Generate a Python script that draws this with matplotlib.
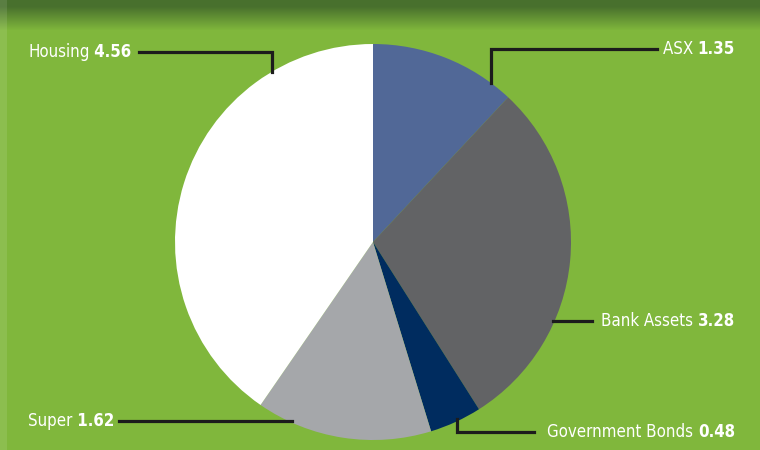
import matplotlib.pyplot as plt
from matplotlib import font_manager
import numpy as np

# values (share of household wealth)
labels = ['ASX', 'Bank Assets', 'Government Bonds', 'Super', 'Housing']
values = [1.35, 3.28, 0.48, 1.62, 4.56]
colors = ['#516897', '#626365', '#002c5f', '#a5a7aa', '#ffffff']

W, H = 760, 450
cx, cy, r = 373, H - 242, 198

# pick a condensed face if there is one
fp = font_manager.FontProperties(family='DejaVu Sans', stretch='condensed')
path = font_manager.findfont(fp, fallback_to_default=True)
if 'Condensed' in path:
    font = dict(family='DejaVu Sans', fontstretch='condensed', fontsize=12.1, color='white')
else:
    font = dict(family='Roboto', fontsize=12.1, color='white')

fig = plt.figure(figsize=(7.6, 4.5), dpi=100)
ax = fig.add_axes([0, 0, 1, 1])
ax.set_xlim(0, W)
ax.set_ylim(0, H)
ax.set_aspect('equal')
ax.axis('off')

# green background with darker band on top
green = np.array([128, 183, 60]) / 255
dark = np.array([72, 112, 45]) / 255
rows = np.arange(H)
t = np.clip((rows - 6) / 24.0, 0, 1)[:, None]
img = dark * (1 - t) + green * t
img = np.repeat(img[:, None, :], W, axis=1)
img[:, :7] = img[:, :7] * 0.9 + 0.1
ax.imshow(img, extent=[0, W, 0, H], origin='upper', zorder=0)

ax.pie(values, colors=colors, startangle=90, counterclock=False,
       center=(cx, cy), radius=r, wedgeprops=dict(linewidth=0))
ax.set_xlim(0, W)
ax.set_ylim(0, H)


def edge_y(x, below):
    d = np.sqrt(r ** 2 - (x - cx) ** 2)
    return cy - d if below else cy + d


def edge_x(y, right):
    d = np.sqrt(r ** 2 - (y - cy) ** 2)
    return cx + d if right else cx - d


lc = '#1c1c1c'
lw = 2.3


def label_left(x, y, i):
    tname = ax.text(x, y, labels[i], ha='left', va='center', **font)
    ax.annotate(' ' + '%.2f' % values[i], xy=(1, 0), xycoords=tname,
                ha='left', va='bottom', fontweight='bold', **font)


def label_right(x, y, i):
    tval = ax.text(x, y, '%.2f' % values[i], ha='right', va='center',
                   fontweight='bold', **font)
    ax.annotate(labels[i] + ' ', xy=(0, 0), xycoords=tval,
                ha='right', va='bottom', **font)


# Housing
y0 = H - 52
ax.plot([139, 272, 272], [y0, y0, edge_y(272, False)], color=lc, lw=lw, solid_joinstyle='miter')
label_left(28, y0, 4)

# ASX
y0 = H - 49
ax.plot([657, 491, 491], [y0, y0, edge_y(491, False)], color=lc, lw=lw, solid_joinstyle='miter')
label_right(735, y0, 0)

# Bank Assets
y0 = H - 321
ax.plot([edge_x(y0, True) - 2, 592], [y0, y0], color=lc, lw=lw)
label_right(735, y0, 1)

# Government Bonds
y0 = H - 432
ax.plot([457, 457, 534], [edge_y(457, True) + 2, y0, y0], color=lc, lw=lw, solid_joinstyle='miter')
label_right(735, y0, 2)

# Super
y0 = H - 421
ax.plot([119, edge_x(y0, False) + 4], [y0, y0], color=lc, lw=lw)
label_left(28, y0, 3)

fig.savefig('out.png', dpi=100)
